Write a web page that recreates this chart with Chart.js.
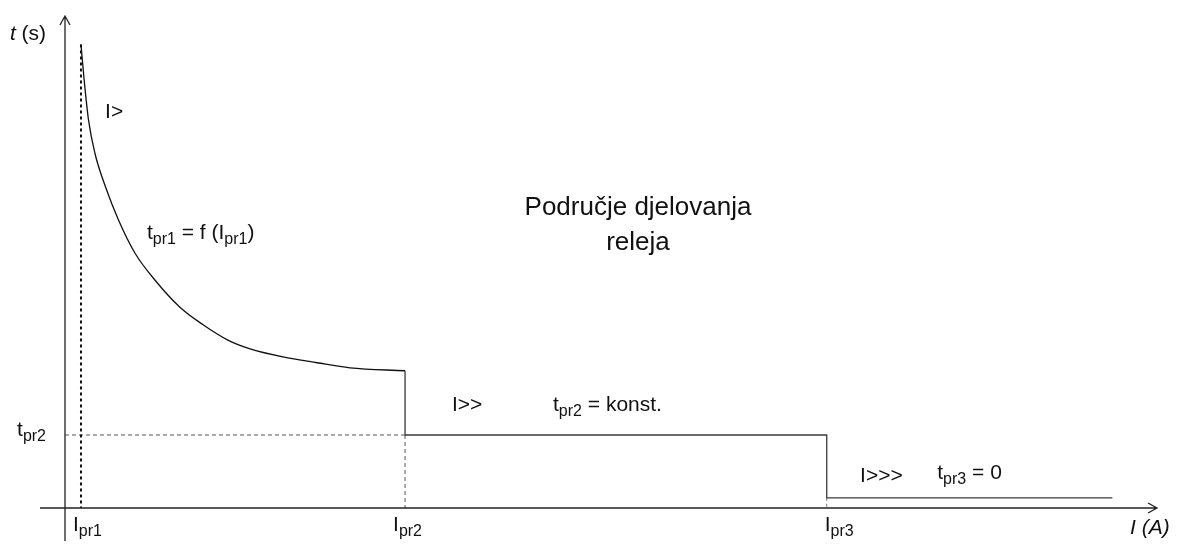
<!DOCTYPE html>
<html>
<head>
<meta charset="utf-8">
<script src="https://cdn.jsdelivr.net/npm/chart.js@4/dist/chart.umd.min.js"></script>
<style>
  html, body { margin: 0; padding: 0; background: #fff; }
  #wrap { width: 1182px; height: 550px; position: relative; }
</style>
</head>
<body>
<div id="wrap"><canvas id="relayChart"></canvas></div>
<script>
// Inverse-time part of the characteristic (I>)
const curveI = [0.47, 0.56, 0.69, 0.88, 1.19, 1.57, 2.06, 2.65, 3.38, 4.06, 4.79, 5.44, 6.41, 7.41, 8.38, 10];
const curveT = [6.35, 5.88, 5.32, 4.86, 4.40, 3.95, 3.49, 3.12, 2.75, 2.51, 2.30, 2.18, 2.07, 1.99, 1.92, 1.88];

// Definite-time steps (I>> and I>>>)
const stepI = [10, 10, 22.4, 22.4, 30.8];
const stepT = [1.88, 1, 1, 0.14, 0.14];

// Pickup currents and times
const pickupI = [0.47, 10, 22.4];
const pickupNames = ['pr1', 'pr2', 'pr3'];
const tpr2 = 1;
const tpr3 = 0.14;

// Axis ranges
const xRange = [-0.735, 32.2];
const yRange = [-0.452, 6.74];

// Free text on the plot: parts are [text, kind] where kind is '', 'sub' or 'it'
const notes = [
  { x: -1.62, y: 6.49, parts: [['t', 'it'], [' (s)', '']] },
  { x: 1.18, y: 5.42, parts: [['I>', '']] },
  { x: 2.41, y: 3.76, parts: [['t', ''], ['pr1', 'sub'], [' = f (I', ''], ['pr1', 'sub'], [')', '']] },
  { x: 16.85, y: 4.11, parts: [['Područje djelovanja', '']], big: true, align: 'center' },
  { x: 16.85, y: 3.63, parts: [['releja', '']], big: true, align: 'center' },
  { x: -1.41, y: 1.07, parts: [['t', ''], ['pr2', 'sub']] },
  { x: 11.38, y: 1.41, parts: [['I>>', '']] },
  { x: 14.35, y: 1.41, parts: [['t', ''], ['pr2', 'sub'], [' = konst.', '']] },
  { x: 23.38, y: 0.44, parts: [['I>>>', '']] },
  { x: 25.65, y: 0.47, parts: [['t', ''], ['pr3', 'sub'], [' = 0', '']] },
  { x: 31.32, y: -0.27, parts: [['I (A)', 'it']] }
];

const FONT = '"Liberation Sans", Arial, sans-serif';
const textSize = 21;
const subSize = 16;
const bigSize = 26;
// pickup labels sit a little left of their line (px)
const pickupLabelShift = [-8, -12, -2];

function toPoints(xs, ys) {
  return xs.map((x, i) => ({ x: x, y: ys[i] }));
}

// draw a line of text with subscripts
function drawRich(ctx, parts, x, y, size, align) {
  const fontFor = kind => {
    if (kind === 'sub') return `${subSize}px ${FONT}`;
    if (kind === 'it') return `italic ${size}px ${FONT}`;
    return `${size}px ${FONT}`;
  };
  let total = 0;
  parts.forEach(p => { ctx.font = fontFor(p[1]); total += ctx.measureText(p[0]).width; });
  let cx = align === 'center' ? x - total / 2 : x;
  ctx.textAlign = 'left';
  ctx.textBaseline = 'middle';
  parts.forEach(p => {
    ctx.font = fontFor(p[1]);
    const dy = p[1] === 'sub' ? size * 0.3 : 0;
    ctx.fillText(p[0], cx, y + dy);
    cx += ctx.measureText(p[0]).width;
  });
}

const axesAndText = {
  id: 'axesAndText',
  afterDatasetsDraw(chart) {
    const ctx = chart.ctx;
    const xs = chart.scales.x;
    const ys = chart.scales.y;
    const area = chart.chartArea;
    const x0 = xs.getPixelForValue(0);
    const y0 = ys.getPixelForValue(0);
    ctx.save();
    ctx.strokeStyle = '#222';
    ctx.lineWidth = 1.3;
    // x axis with arrow
    const xEnd = area.right - 3;
    ctx.beginPath();
    ctx.moveTo(area.left, y0);
    ctx.lineTo(xEnd, y0);
    ctx.moveTo(xEnd - 9, y0 - 5);
    ctx.lineTo(xEnd, y0);
    ctx.lineTo(xEnd - 9, y0 + 5);
    // y axis with arrow
    ctx.moveTo(x0, area.bottom);
    ctx.lineTo(x0, area.top);
    ctx.moveTo(x0 - 5, area.top + 9);
    ctx.lineTo(x0, area.top);
    ctx.lineTo(x0 + 5, area.top + 9);
    ctx.stroke();

    ctx.fillStyle = '#111';
    // pickup current labels under the axis
    pickupI.forEach((v, i) => {
      drawRich(ctx, [['I', ''], [pickupNames[i], 'sub']],
        xs.getPixelForValue(v) + pickupLabelShift[i], y0 + 17, textSize, 'left');
    });
    notes.forEach(n => {
      drawRich(ctx, n.parts, xs.getPixelForValue(n.x), ys.getPixelForValue(n.y),
        n.big ? bigSize : textSize, n.align || 'left');
    });
    ctx.restore();
  }
};

const guide = (pts, color, width, dash) => ({
  data: pts,
  borderColor: color,
  borderWidth: width,
  borderDash: dash,
  pointRadius: 0,
  fill: false,
  tension: 0
});

new Chart(document.getElementById('relayChart'), {
  type: 'line',
  data: {
    datasets: [
      {
        label: 'I>',
        data: toPoints(curveI, curveT),
        borderColor: '#111',
        borderWidth: 1.3,
        pointRadius: 0,
        fill: false,
        cubicInterpolationMode: 'monotone'
      },
      {
        label: 'I>> / I>>>',
        data: toPoints(stepI, stepT),
        borderColor: '#3a3a3a',
        borderWidth: 1.3,
        pointRadius: 0,
        fill: false,
        tension: 0
      },
      guide([{ x: pickupI[0], y: curveT[0] }, { x: pickupI[0], y: 0 }], '#111', 2, [3, 3]),
      guide([{ x: 0, y: tpr2 }, { x: pickupI[1], y: tpr2 }], '#555', 1, [4, 3]),
      guide([{ x: pickupI[1], y: tpr2 }, { x: pickupI[1], y: 0 }], '#555', 1, [4, 3]),
      guide([{ x: pickupI[2], y: tpr3 }, { x: pickupI[2], y: 0 }], '#777', 1, [3, 3])
    ]
  },
  options: {
    responsive: true,
    maintainAspectRatio: false,
    animation: false,
    layout: { padding: { left: 40, right: 22, top: 16, bottom: 9 } },
    plugins: {
      legend: { display: false },
      tooltip: { enabled: false }
    },
    scales: {
      x: { type: 'linear', min: xRange[0], max: xRange[1], display: false },
      y: { type: 'linear', min: yRange[0], max: yRange[1], display: false }
    }
  },
  plugins: [axesAndText]
});
</script>
</body>
</html>
